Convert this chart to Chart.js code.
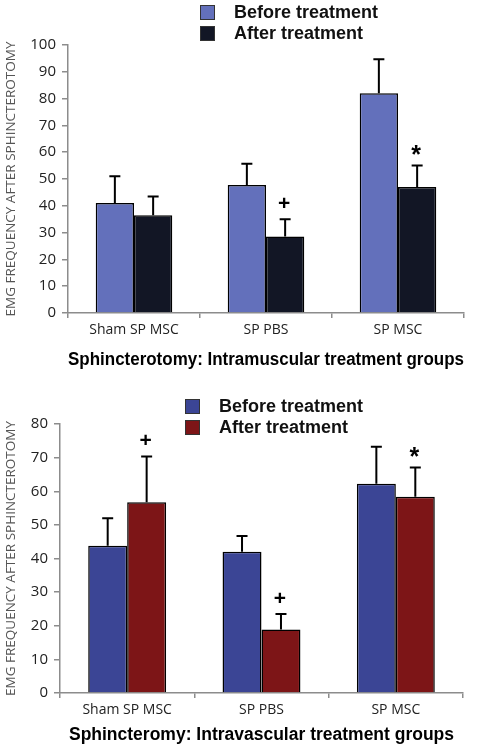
<!DOCTYPE html>
<html>
<head>
<meta charset="utf-8">
<script src="https://cdn.jsdelivr.net/npm/chart.js@4"></script>
<style>
  html, body { margin: 0; padding: 0; background: #fff; }
  body { width: 484px; height: 750px; position: relative; overflow: hidden; font-family: "Liberation Sans", Arial, sans-serif; }
  .panel { position: absolute; left: 0; width: 484px; height: 375px; }
  .legend { position: absolute; font-weight: bold; font-size: 18px; color: #111; }
  .legend-row { display: flex; align-items: center; height: 21px; }
  .swatch { width: 13px; height: 13px; border: 1px solid #333; margin-right: 19px; }
</style>
</head>
<body>
<div class="panel" style="top:0"><canvas id="muscChart" width="484" height="375"></canvas></div>
<div class="panel" style="top:375px"><canvas id="vascChart" width="484" height="375"></canvas></div>
<div class="legend" id="muscLegend" style="left:200px;top:2px"></div>
<div class="legend" id="vascLegend" style="left:185px;top:396px"></div>
<script>
const groups = ["Sham SP MSC", "SP PBS", "SP MSC"];
const seriesLabels = ["Before treatment", "After treatment"];
const yTitle = "EMG FREQUENCY AFTER SPHINCTEROTOMY";

// Intramuscular panel
const muscBefore = [41, 47.8, 82];
const muscBeforeErr = [51, 55.7, 94.7];
const muscAfter = [36.5, 28.5, 47];
const muscAfterErr = [43.5, 35, 55];
const muscAfterMarks = ["", "+", "*"];

// Intravascular panel
const vascBefore = [43.8, 42, 62.2];
const vascBeforeErr = [52, 46.7, 73.2];
const vascAfter = [56.7, 18.9, 58.4];
const vascAfterErr = [70.3, 23.5, 67.1];
const vascAfterMarks = ["+", "+", "*"];

const tickFont = { family: "'Open Sans', sans-serif", size: 14 };

const errorBars = {
    id: "errorBars",
    afterDatasetsDraw(chart) {
        const ctx = chart.ctx;
        const y = chart.scales.y;
        chart.data.datasets.forEach((ds, di) => {
            const meta = chart.getDatasetMeta(di);
            meta.data.forEach((bar, i) => {
                const top = y.getPixelForValue(ds.errTop[i]);
                ctx.save();
                ctx.strokeStyle = "#000";
                ctx.lineWidth = 2;
                ctx.beginPath();
                ctx.moveTo(bar.x, bar.y);
                ctx.lineTo(bar.x, top);
                ctx.moveTo(bar.x - 5.5, top);
                ctx.lineTo(bar.x + 5.5, top);
                ctx.stroke();
                const mark = ds.marks ? ds.marks[i] : "";
                if (mark) {
                    ctx.fillStyle = "#000";
                    ctx.textAlign = "center";
                    ctx.textBaseline = "middle";
                    if (mark === "*") {
                        ctx.font = "bold 25px 'Liberation Sans', Arial, sans-serif";
                        ctx.fillText(mark, bar.x - 1, top - 9);
                    } else {
                        ctx.font = "bold 21px 'Liberation Sans', Arial, sans-serif";
                        ctx.fillText(mark, bar.x - 1, top - 15);
                    }
                }
                ctx.restore();
            });
        });
    },
};

function makeChart(id, before, beforeErr, after, afterErr, marks, colors, yMax, opts) {
    return new Chart(document.getElementById(id), {
        type: "bar",
        data: {
            labels: groups,
            datasets: [
                { label: seriesLabels[0], data: before, errTop: beforeErr, backgroundColor: colors[0] },
                { label: seriesLabels[1], data: after, errTop: afterErr, marks, backgroundColor: colors[1] },
            ].map((d) => ({
                ...d,
                borderColor: "#000",
                borderWidth: 1.5,
                categoryPercentage: 0.58,
                barPercentage: 1,
            })),
        },
        options: {
            responsive: false,
            animation: false,
            layout: { padding: { top: opts.top, right: opts.right, bottom: 0, left: 0 } },
            plugins: { legend: { display: false }, tooltip: { enabled: false } },
            scales: {
                x: {
                    afterFit: (s) => { s.height = opts.xHeight; },
                    grid: { drawOnChartArea: false, color: "#8c8c8c", lineWidth: 1.5, tickLength: 5 },
                    border: { color: "#8c8c8c", width: 1.5 },
                    ticks: { color: "#222", font: tickFont, padding: 4 },
                    title: {
                        display: true,
                        text: opts.xTitle,
                        color: "#000",
                        font: { family: "'Liberation Sans', Arial, sans-serif", size: opts.xTitleSize, weight: "bold" },
                        padding: { top: 0, bottom: 4 },
                    },
                },
                y: {
                    min: 0,
                    max: yMax,
                    afterFit: (s) => { s.width = opts.yWidth; },
                    grid: { drawOnChartArea: false, color: "#8c8c8c", lineWidth: 1.5, tickLength: 6 },
                    border: { color: "#8c8c8c", width: 1.5 },
                    ticks: { stepSize: 10, color: "#222", font: { ...tickFont, size: 15 }, padding: 6 },
                    title: {
                        display: true,
                        text: yTitle,
                        color: "#555",
                        font: { family: "'Open Sans', sans-serif", size: 13.5 },
                        padding: { top: 3, bottom: 4 },
                    },
                },
            },
        },
        plugins: [errorBars],
    });
}

function buildLegend(elId, colors) {
    const el = document.getElementById(elId);
    seriesLabels.forEach((label, i) => {
        const row = document.createElement("div");
        row.className = "legend-row";
        const sw = document.createElement("span");
        sw.className = "swatch";
        sw.style.background = colors[i];
        row.appendChild(sw);
        row.appendChild(document.createTextNode(label));
        el.appendChild(row);
    });
}

const muscColors = ["#6370bb", "#121625"];
const vascColors = ["#3b4595", "#7d1517"];

makeChart("muscChart", muscBefore, muscBeforeErr, muscAfter, muscAfterErr, muscAfterMarks, muscColors, 100,
    { top: 45, right: 20, xHeight: 62, yWidth: 68, xTitleSize: 17.5,
      xTitle: "Sphincterotomy: Intramuscular treatment groups" });
makeChart("vascChart", vascBefore, vascBeforeErr, vascAfter, vascAfterErr, vascAfterMarks, vascColors, 80,
    { top: 49, right: 21, xHeight: 57, yWidth: 60, xTitleSize: 17.5,
      xTitle: "Sphincteromy: Intravascular treatment groups" });

buildLegend("muscLegend", muscColors);
buildLegend("vascLegend", vascColors);
</script>
</body>
</html>
